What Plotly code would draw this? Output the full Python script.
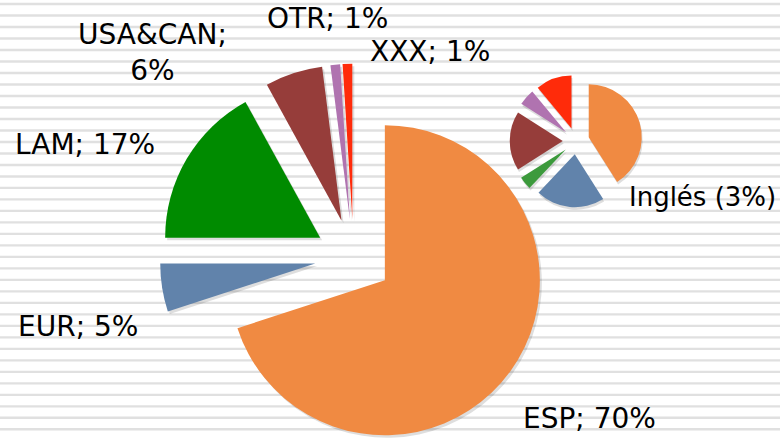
import math
import plotly.graph_objects as go

# ---------------- data ----------------
regions = ["ESP", "EUR", "LAM", "USA&CAN", "OTR", "XXX"]
shares = [70, 5, 17, 6, 1, 1]
region_colors = ["#F08A42", "#6183AB", "#008B00", "#963D3A", "#B073B0", "#FF2B0A"]

ingles_label = "Inglés (3%)"
ingles_parts = [41, 21, 4, 18, 5, 11]
ingles_colors = ["#F08A42", "#6183AB", "#3C9A3C", "#963D3A", "#B073B0", "#FF2B0A"]

# ---------------- layout constants (pixels) ----------------
W, H = 780, 438
MAIN_CX, MAIN_CY, MAIN_R = 353.5, 257.5, 155
SMALL_CX, SMALL_CY, SMALL_R = 576, 141, 53
EXPLODE = 0.25          # fraction of radius each slice is pulled out
SHADOW = (2, 2.5)        # shadow offset in px
FONT = "DejaVu Sans"
LABEL_SIZE = 28

# label anchor positions (centre of text) in px, per region
label_pos = {
    "ESP": (589, 418),
    "EUR": (78, 326),
    "LAM": (85, 145),
    "USA&CAN": (152, 53),
    "OTR": (327, 18),
    "XXX": (430, 51),
}
wrapped = {"USA&CAN"}
ingles_pos = (702, 197)


def px_domain(cx, cy, half):
    x0 = max(0.0, (cx - half) / W)
    x1 = min(1.0, (cx + half) / W)
    y0 = max(0.0, (H - (cy + half)) / H)
    y1 = min(1.0, (H - (cy - half)) / H)
    return dict(x=[x0, x1], y=[y0, y1])


fig = go.Figure()

total = sum(shares)
cum = 0
slice_specs = []
for i, v in enumerate(shares):
    mid = (cum + v / 2) / total
    cum += v
    ang = math.radians(90 - 360 * mid)
    dx = EXPLODE * MAIN_R * math.cos(ang)
    dy = -EXPLODE * MAIN_R * math.sin(ang)
    slice_specs.append((i, MAIN_CX + dx, MAIN_CY + dy))


def add_slice(i, cx, cy, color, shadow=False):
    cols = ["rgba(0,0,0,0)"] * len(shares)
    cols[i] = color
    fig.add_trace(go.Pie(
        labels=regions, values=shares, sort=False, direction="clockwise",
        rotation=0, textinfo="none", hoverinfo="skip" if shadow else "label+percent",
        marker=dict(colors=cols, line=dict(width=0)),
        domain=px_domain(cx, cy, MAIN_R), showlegend=False,
    ))


# shadows first
for i, cx, cy in slice_specs:
    add_slice(i, cx + SHADOW[0], cy + SHADOW[1], "rgba(0,0,0,0.13)", shadow=True)
for i, cx, cy in slice_specs:
    add_slice(i, cx, cy, region_colors[i])

# small "Inglés" pie
small_half = SMALL_R * (1 + EXPLODE)
fig.add_trace(go.Pie(
    values=ingles_parts, sort=False, direction="clockwise", rotation=0,
    pull=EXPLODE, textinfo="none", hoverinfo="skip",
    marker=dict(colors=["rgba(0,0,0,0.13)"] * len(ingles_parts), line=dict(width=0)),
    domain=px_domain(SMALL_CX + 1, SMALL_CY + 2.5, small_half), showlegend=False,
))
fig.add_trace(go.Pie(
    values=ingles_parts, sort=False, direction="clockwise", rotation=0,
    pull=EXPLODE, textinfo="none",
    marker=dict(colors=ingles_colors, line=dict(width=0)),
    domain=px_domain(SMALL_CX, SMALL_CY, small_half), showlegend=False,
))

# labels
annotations = []
for name, v in zip(regions, shares):
    sep = ";<br>" if name in wrapped else "; "
    x, y = label_pos[name]
    annotations.append(dict(
        text=f"{name}{sep}{v}%", x=x / W, y=(H - y) / H, xref="paper", yref="paper",
        xanchor="center", yanchor="middle", showarrow=False,
        font=dict(family=FONT, size=LABEL_SIZE, color="#000000"),
    ))
annotations.append(dict(
    text=ingles_label, x=ingles_pos[0] / W, y=(H - ingles_pos[1]) / H,
    xref="paper", yref="paper", xanchor="center", yanchor="middle", showarrow=False,
    font=dict(family=FONT, size=26, color="#000000"),
))

# striped background
shapes = []
k = 0
while True:
    y = 4 + 11.495 * k
    if y > H:
        break
    shapes.append(dict(type="line", xref="paper", yref="paper", x0=0, x1=1,
                       y0=(H - y) / H, y1=(H - y) / H, layer="below",
                       line=dict(color="#E0E0E0", width=2.4)))
    k += 1

fig.update_layout(
    width=W, height=H, margin=dict(l=0, r=0, t=0, b=0),
    paper_bgcolor="white", plot_bgcolor="white",
    annotations=annotations, shapes=shapes, showlegend=False,
)

fig.write_html(
    "out.html",
    config={"displayModeBar": False},
    post_script="document.body.style.margin='0';document.body.style.overflow='hidden';",
)
